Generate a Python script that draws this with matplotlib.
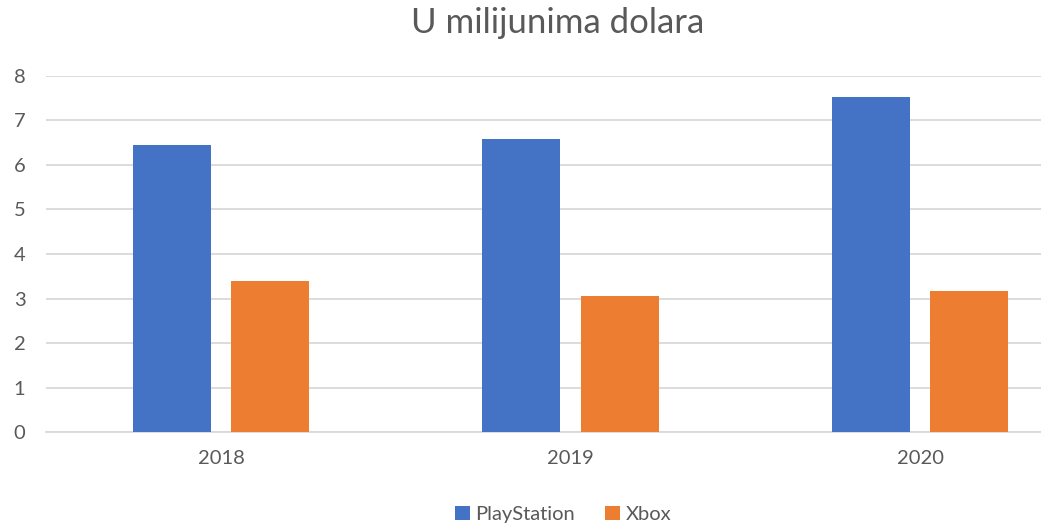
import matplotlib
matplotlib.use("Agg")
import matplotlib.pyplot as plt
import numpy as np

godine = ["2018", "2019", "2020"]
playstation = [6.45, 6.58, 7.53]
xbox = [3.39, 3.06, 3.16]

plt.rcParams['font.family'] = ['Lato', 'DejaVu Sans']
tekst = '#595959'

fig = plt.figure(figsize=(10.41, 5.26), dpi=100)
# os ide malo preko desnog ruba, kao na originalu
ax = fig.add_axes([46.25 / 1041, 93.7 / 526, 1048.5 / 1041, 356.6 / 526])

x = np.arange(len(godine))
w = 0.223
ax.bar(x - 0.1415, playstation, w, color='#4472C4', label='PlayStation', zorder=3)
ax.bar(x + 0.1415, xbox, w, color='#ED7D31', label='Xbox', zorder=3)

ax.set_xlim(-0.5, 2.5)
ax.set_ylim(0, 8)
ax.set_yticks(range(0, 9))
ax.set_xticks(x)
ax.set_xticklabels(godine)
ax.yaxis.grid(True, color='#D9D9D9', linewidth=1.3, zorder=0)
for s in ['top', 'right', 'left']:
    ax.spines[s].set_visible(False)
ax.spines['bottom'].set_color('#D9D9D9')
ax.spines['bottom'].set_linewidth(1.3)
ax.tick_params(axis='both', length=0, colors=tekst, labelsize=14.5)
ax.tick_params(axis='y', pad=15)
ax.tick_params(axis='x', pad=13)

fig.text(0.536, 0.957, 'U milijunima dolara', ha='center', va='center',
         fontsize=25, color=tekst)

fig.legend(loc='center', bbox_to_anchor=(0.541, 0.022), ncol=2, frameon=False,
           fontsize=14.5, handlelength=0.75, handleheight=0.75, handletextpad=0.25,
           columnspacing=1.5, labelcolor=tekst)

fig.savefig('out.png', dpi=100)
